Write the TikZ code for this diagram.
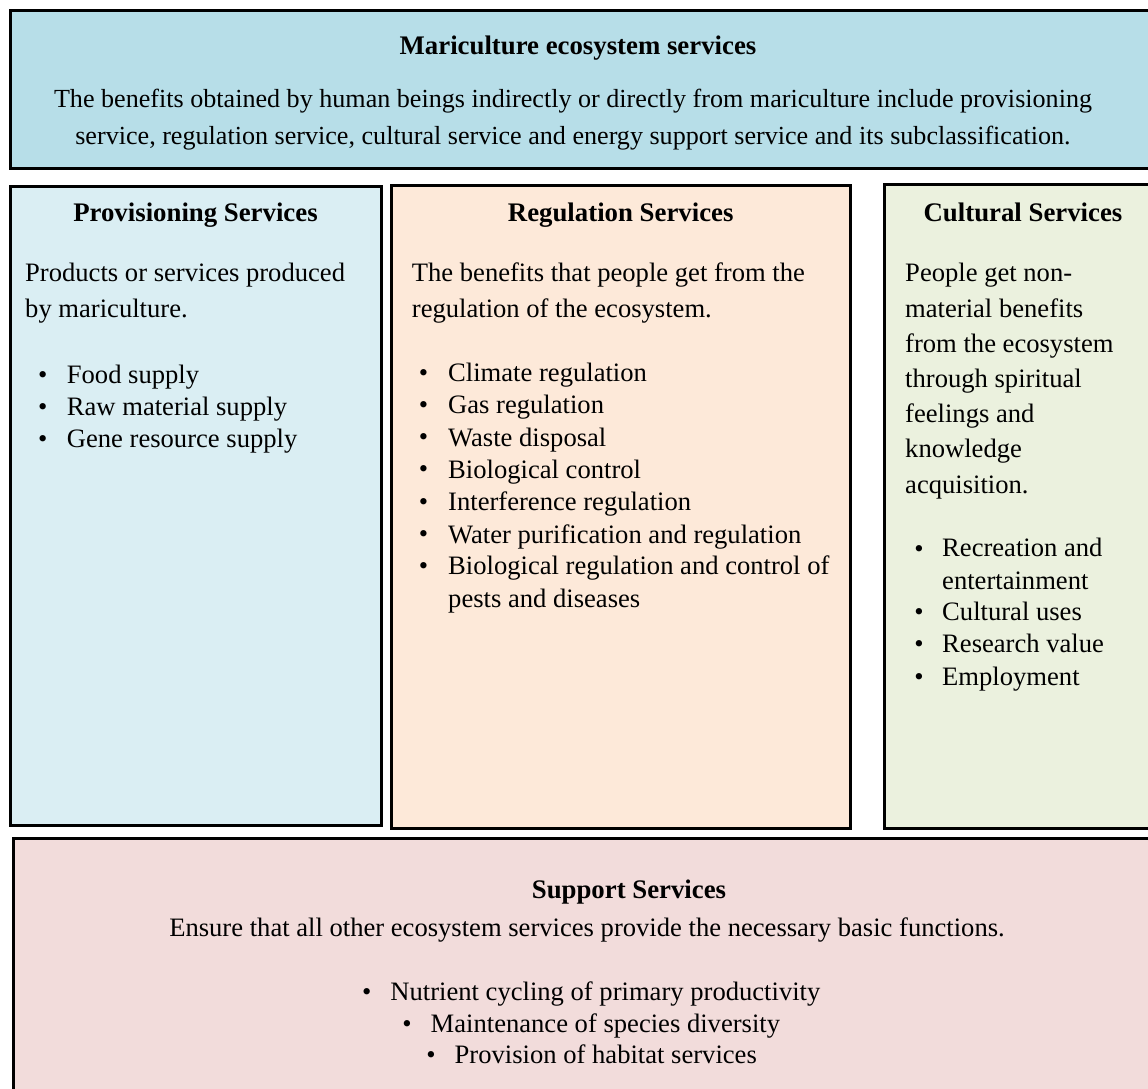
\documentclass[tikz,border=0pt]{standalone}
\usepackage{fontspec}
\setmainfont{Liberation Serif}

\definecolor{kopfblau}{HTML}{B7DEE8}
\definecolor{versblau}{HTML}{DAEEF3}
\definecolor{regorange}{HTML}{FDE9D9}
\definecolor{kultgruen}{HTML}{EBF1DE}
\definecolor{stuetzrot}{HTML}{F2DCDB}

\tikzset{
	kasten/.style={draw=black,line width=3pt},
	titel/.style={font=\fontsize{26.8}{32}\selectfont\bfseries,anchor=base,inner sep=0pt},
	fliess/.style={font=\fontsize{26.6}{35.2}\selectfont,anchor=base west,align=left,inner sep=0pt},
	punkt/.style={font=\fontsize{26.6}{32.3}\selectfont,anchor=base,inner sep=0pt},
	eintrag/.style={font=\fontsize{26.6}{32.3}\selectfont,anchor=base west,align=left,inner sep=0pt}
}

\begin{document}
\begin{tikzpicture}[x=1pt,y=-1pt]
	% Bildausschnitt festlegen
	\useasboundingbox (0,0) rectangle (1148,1089);
	\clip (0,0) rectangle (1148,1089);

	% Kasten oben: Mariculture ecosystem services
	\draw[kasten,fill=kopfblau] (10,11) rectangle (1162,168);
	\node[titel] (kopf) at (578,55) {Mariculture ecosystem services};
	% Basis = letzte Zeile
	\node[fliess,anchor=base,align=center,font=\fontsize{26.1}{37}\selectfont] (kopftext) at (573,145)
		{The benefits obtained by human beings indirectly or directly from mariculture include provisioning\\
		 service, regulation service, cultural service and energy support service and its subclassification.};

	% Drei Spalten
	\draw[kasten,fill=versblau] (10,186.5) rectangle (381,825.5);
	\draw[kasten,fill=regorange] (391.5,185) rectangle (850,828.5);
	\draw[kasten,fill=kultgruen] (884.3,184.5) rectangle (1162,828.5);

	% Provisioning Services
	\node[titel] (vers) at (195.5,221) {Provisioning Services};
	\node[fliess] (verstext) at (25,317) {Products or services produced\\by mariculture.};
	\foreach \e [count=\i from 0] in {Food supply, Raw material supply, Gene resource supply} {
		\node[punkt] (vers-p\i) at (42.7,{383+32*\i}) {•};
		\node[eintrag] (vers-\i) at (66.7,{383+32*\i}) {\e};
	}

	% Regulation Services
	\node[titel] (reg) at (620.7,221) {Regulation Services};
	\node[fliess] (regtext) at (411.7,317) {The benefits that people get from the\\regulation of the ecosystem.};
	\foreach \e/\y [count=\i from 0] in {Climate regulation/381, Gas regulation/413, Waste disposal/446,
		Biological control/478, Interference regulation/510, Water purification and regulation/543,
		{Biological regulation and control of\\pests and diseases}/607} {
		\node[eintrag] (reg-\i) at (448,\y) {\e};
		\node[punkt] (reg-p\i) at (423.5,{381+32.3*\i}) {•};
	}

	% Cultural Services
	\node[titel] (kult) at (1023,221) {Cultural Services};
	\node[fliess] (kulttext) at (905,493) {People get non-\\material benefits\\from the ecosystem\\through spiritual\\feelings and\\knowledge\\acquisition.};
	\foreach \e/\y/\yp [count=\i from 0] in {{Recreation and\\entertainment}/589/557, Cultural uses/620/620,
		Research value/652/652, Employment/685/685} {
		\node[eintrag] (kult-\i) at (942,\y) {\e};
		\node[punkt] (kult-p\i) at (919,\yp) {•};
	}

	% Support Services unten
	\draw[kasten,fill=stuetzrot] (13.3,838.7) rectangle (1245,1100);
	\node[titel] (stuetz) at (629,898) {Support Services};
	\node[fliess,anchor=base] (stuetztext) at (587,936) {Ensure that all other ecosystem services provide the necessary basic functions.};
	\foreach \e/\x/\y [count=\i from 0] in {Nutrient cycling of primary productivity/366.7/1000,
		Maintenance of species diversity/407/1032, Provision of habitat services/431/1063} {
		\node[punkt] (stuetz-p\i) at (\x,\y) {•};
		\node[eintrag] (stuetz-\i) at (\x+23.5,\y) {\e};
	}
\end{tikzpicture}
\end{document}
